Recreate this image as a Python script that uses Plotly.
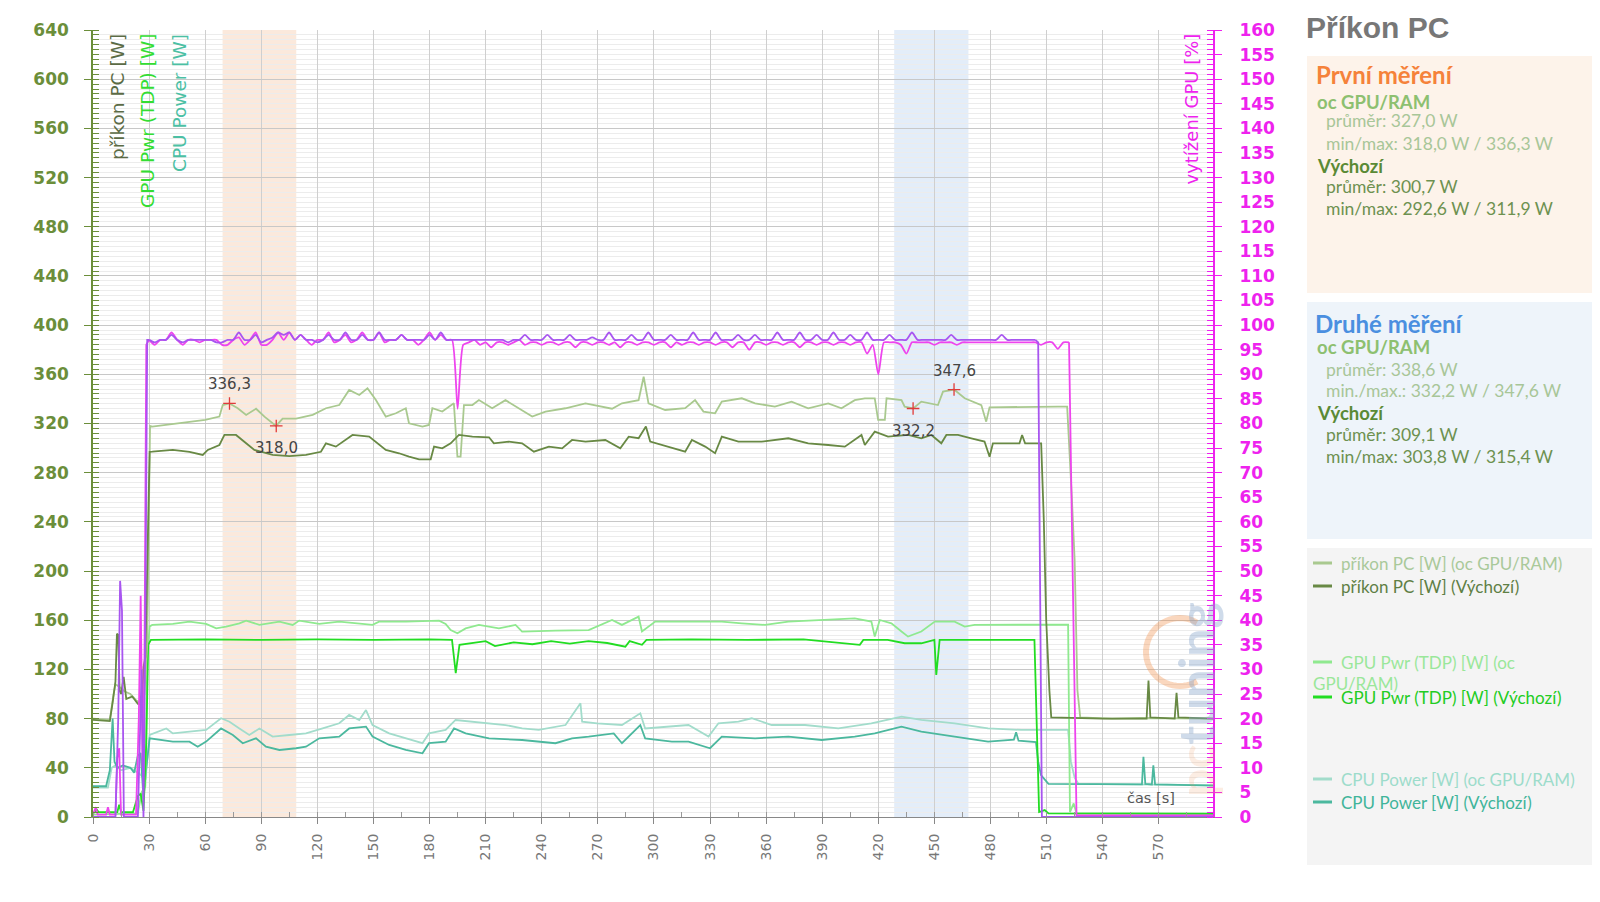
import math
import plotly.graph_objects as go

# ---------------- DATA ----------------
PC_OC_T = [0, 9, 11, 12, 14, 17, 20, 23, 26, 27.5,
           29, 30.5, 31.7, 42, 52, 60, 67.6, 69.4, 73, 77.4,
           81.9, 87.2, 91.7, 97.9, 101.4, 108.6, 117.5, 124.6, 131.7, 137,
           142.4, 146.8, 151.3, 156.6, 162, 167.3, 169, 176.2, 179.7, 181.5,
           186.8, 193, 194.9, 196.6, 198.4, 202.9, 206.4, 213.5, 220.6, 227.8,
           234.9, 242, 252.7, 263.4, 269.6, 277.6, 282.9, 291.8, 294.5, 297.1,
           306, 316.7, 322, 326.5, 332.7, 336.3, 347, 354.1, 364.7, 373.6,
           382.5, 393.2, 400.3, 407.4, 412.8, 418.1, 419.9, 423.5, 424.4, 432.4,
           434.1, 438.6, 443, 451.9, 454.6, 460.5, 466.2, 475.1, 477.7, 479.5,
           516, 521, 523.5, 525, 526.5, 528, 545, 560, 599]
PC_OC_V = [80, 79, 100, 108, 106, 102, 100, 95, 92, 100,
           140, 318, 317.5, 319.5, 321, 323, 325.6, 335, 336.3, 332.4,
           327, 332, 325.6, 318.0, 324, 324, 327, 332.4, 335, 347.3,
           343.2, 348.6, 339.1, 325.6, 328.3, 332.4, 320.2, 317.5, 318.8, 332.4,
           329.7, 336.4, 293, 293, 335, 335, 339.1, 332.4, 339, 332,
           325.6, 329.7, 332.4, 336.4, 334.3, 332, 336.4, 339, 358, 336.4,
           331, 332.4, 339, 329.7, 328.3, 337.8, 340.5, 336.4, 333.7, 337.8,
           332.4, 336.4, 332.4, 339, 340.5, 340.5, 323, 323, 340.5, 339,
           333.7, 332.2, 337.8, 335, 345.9, 347.6, 340.5, 335, 321.5, 333.2,
           333.7, 333.7, 260, 209, 103, 81, 80, 80.5, 80]

PC_DEF_T = [0, 9, 10.5, 12, 12.8, 13.5, 14.2, 15, 16.4, 17.8,
            21, 24, 26.3, 27, 28, 29, 30.3, 31.7, 42.7, 51.6,
            58.7, 61.4, 67.6, 70.3, 76.5, 81.9, 86.3, 96.1, 105, 113.9,
            121.9, 124.6, 129.9, 138.8, 147.7, 156.6, 163.7, 169, 174.4, 180.6,
            182.4, 186.8, 191.3, 195.7, 202.9, 211.8, 214.4, 222.4, 229.5, 235.8,
            243.8, 250.9, 256.2, 263.4, 269.6, 274, 282, 286.5, 291.8, 295.7,
            298, 304.2, 311.4, 316.7, 320.3, 327.4, 332.7, 336.3, 345.2, 357.6,
            371.9, 382.5, 393.2, 402.1, 411, 412.8, 418.1, 425.2, 436, 443,
            448.4, 453.7, 456.4, 462.6, 469.7, 476.8, 479.5, 481.3, 495.5, 496.9,
            498.5, 507.1, 508.5, 509.8, 511.5, 512.5, 540, 563.5, 564.5, 565.5,
            578.5, 579.5, 580.5, 599]
PC_DEF_V = [79, 78, 93, 110, 149, 148, 103, 100, 114, 96,
            98, 92, 92, 122, 130, 200, 297, 297.1, 298.5, 297,
            294.4, 298.5, 302.5, 310.7, 310.7, 303.9, 298.5, 294.5, 293.5, 294.4,
            297, 303.9, 301.2, 310.7, 309.3, 298.5, 295.8, 293, 290.9, 290.9,
            301.2, 299.8, 303.9, 310.7, 309.3, 308.8, 303.9, 305.3, 303.9, 297.1,
            301.2, 299.8, 306.6, 305.3, 306.1, 306.6, 299.8, 309.3, 308, 317.5,
            305.3, 302.5, 299.8, 297.1, 306.6, 301.2, 295.8, 309.3, 305.3, 305.3,
            308, 303.9, 302.5, 301.2, 310.7, 302.5, 313.4, 309.3, 310.7, 308,
            310.7, 303.9, 310.7, 310.7, 308, 305.3, 293, 303.9, 303.9, 310.7,
            303.9, 303.9, 242, 160, 103, 81, 80, 80, 111, 81,
            80, 101, 81, 80]

GPU_OC_T = [0, 24, 26, 28, 29, 30.3, 31.7, 42.7, 51.6, 60.5,
            65.9, 71.2, 78.3, 81.9, 89, 99.7, 106.8, 110.3, 121, 131.7,
            149.5, 153, 167.3, 185.1, 188.6, 191.3, 194.9, 199.3, 206.4, 217.1,
            226, 229.5, 247.3, 256.2, 265.1, 277.6, 282.9, 291.8, 293.6, 300.7,
            318.5, 336.3, 347, 359.4, 371.9, 389.7, 407.4, 416.3, 418.1, 420.8,
            427, 432.4, 435.9, 443, 450.2, 460.8, 466.2, 471.5, 516, 521.5,
            522.5, 524.5, 526, 599]
GPU_OC_V = [2, 3, 20, 25, 130, 155, 156.2, 157, 158.9, 157,
            153.4, 154.8, 157.5, 159.7, 156.2, 158.9, 156.2, 159.7, 157, 158.9,
            156.2, 158.9, 158.9, 159.7, 157, 152, 149.4, 153.4, 156.2, 153.4,
            156.2, 150.8, 151.6, 152.1, 152, 160.2, 156.2, 162.9, 150.8, 158.9,
            158.9, 158.9, 157.5, 156.2, 158.9, 160.2, 161.6, 158.9, 146.7, 160.2,
            157.5, 150.8, 146.7, 150.8, 158.9, 158.9, 154.8, 156.2, 156.2, 156.5,
            4, 11, 3, 3]

GPU_DEF_T = [0, 2, 3, 13, 14, 15, 21.4, 24, 25.5, 27,
             28.5, 29.5, 31, 60, 90, 120, 150, 180, 192, 194,
             196, 200, 210, 215, 225, 235, 245, 255, 265, 275,
             284.7, 287, 293.6, 296, 320, 350, 380, 410.1, 412, 425,
             434.1, 443, 450, 451, 452.8, 480, 503.5, 506, 509, 511,
             599]
GPU_DEF_V = [3, 6, 4, 4, 10, 4, 4, 17, 19, 5,
             60, 140, 144, 144.5, 144, 144.5, 144, 144.5, 144, 117,
             140, 141, 143, 139, 142, 140.5, 143, 141, 143, 141.5,
             138.5, 143, 140, 144, 144.5, 144, 144.5, 140, 144, 144,
             141.3, 141.3, 144, 115.5, 144, 144, 144, 4, 5.6, 3,
             2.5]

CPU_OC_T = [0, 8, 10, 12, 15, 20, 25, 28, 30.3, 39.2,
            42.7, 51.6, 60.5, 68.5, 73, 78.3, 83.6, 89, 96.1, 105,
            113.9, 122.8, 131.7, 137, 142.4, 146, 149.5, 158.4, 167.3, 176.2,
            179.7, 188.6, 193.9, 202.9, 220.6, 229.5, 238.4, 252.7, 260.7, 261.6,
            269.6, 282.9, 292.7, 295.3, 309.6, 318.5, 329.2, 334.5, 345.2, 352.3,
            363, 380.8, 398.6, 416.3, 432.4, 443, 460.8, 478.7, 496.4, 521.5,
            523, 525, 527, 599]
CPU_OC_V = [24, 24, 40, 42, 38, 40, 35, 30, 66.7, 72,
            68, 69.4, 70.8, 80.3, 77.5, 72, 66.7, 72, 65.4, 66.7,
            68, 72, 76.2, 83, 78.9, 87, 74.8, 68, 64, 60,
            68, 70.8, 78.9, 77.5, 74.8, 72, 70.8, 74.8, 92.5, 77.5,
            76.2, 74.8, 84.3, 72, 73.5, 74.8, 65.4, 76.2, 77.5, 80.3,
            74.8, 74.8, 72, 76.2, 81.6, 78.9, 76.2, 72, 70.8, 70.8,
            45, 32, 27, 26]

CPU_DEF_T = [0, 7, 9, 10.5, 11.5, 13, 16, 20, 22, 24,
             25.5, 27, 28.5, 30.3, 42.7, 51.6, 56, 60.5, 68.5, 74.8,
             80.1, 87.2, 92.5, 99.7, 108.6, 113.9, 121, 131.7, 137, 146,
             149.5, 158.4, 167.3, 176.2, 179.7, 188.6, 193.1, 199.3, 211.8, 229.5,
             247.3, 256.2, 265.1, 278.5, 282.9, 292.7, 295.3, 309.6, 318.5, 330,
             336.3, 354.1, 371.9, 389.7, 407.4, 418.1, 432.4, 443, 460.8, 478.7,
             492.5, 493.7, 495, 504.3, 505.5, 507, 511, 561, 561.8, 562.8,
             566.3, 567.1, 568, 599]
CPU_DEF_V = [25, 25, 38, 80, 45, 40, 42, 40, 36, 50,
             52, 15, 40, 64, 61.3, 61.3, 57.2, 61.3, 72, 66.7,
             60, 64, 57.2, 54.5, 55.9, 57.2, 64, 65.4, 72, 73.5,
             65.4, 58.6, 54.5, 51.8, 60, 61.3, 72, 68, 64, 62.6,
             60, 64, 65.4, 68, 60, 74.8, 64, 61.3, 61.3, 55.9,
             65.4, 64, 65.4, 62.6, 65.4, 68, 73.5, 69.4, 65.4, 61.3,
             63, 69, 62, 61, 45, 34, 27, 26.5, 49, 27,
             26.5, 42, 26.5, 25.5]

# GPU utilisation [%] (right axis); main part sampled every 3 s
UTIL_OC_HEAD_T = [0, 1.5, 2.5, 7, 8, 9, 12, 13, 14, 15, 23, 24.5, 25.5, 26.5, 27.5, 28.5]
UTIL_OC_HEAD_V = [0.5, 2, 0.5, 0.5, 2, 0.5, 0.5, 12, 14, 0.5, 0.5, 20, 45, 10, 30, 96]
UTIL_OC_MAIN_V = [97, 96, 97, 97, 98.5, 97, 96, 97, 97, 96.5,
                  97, 97, 97, 96, 96, 97, 97.5, 96, 97, 98.5,
                  96, 96, 97, 98.5, 97, 98.5, 97, 98, 97, 96,
                  97, 97, 98.5, 96.5, 97, 98, 96.5, 97, 98.5, 97,
                  97, 98.5, 96.5, 97, 97, 98, 97, 97, 96, 97,
                  98.5, 97, 98, 97, 97, 83, 96, 96.5, 97, 96,
                  96.5, 95.5, 96.5, 96.5, 96, 96.5, 97, 96, 96.5, 96.5,
                  96, 96.5, 96.5, 96, 96.5, 96.5, 95.5, 96.5, 96.5, 96,
                  96.5, 96.5, 96, 96.5, 95.5, 96.5, 96.5, 96, 96.5, 96.5,
                  96, 96.5, 96.5, 95.5, 96.5, 96, 96.5, 96.5, 96, 96.5,
                  96.5, 96, 96.5, 96.5, 95.5, 96.5, 96.5, 95, 96.5, 96.5,
                  96, 96.5, 96.5, 96, 96.5, 96.5, 95.5, 96.5, 96.5, 96,
                  96.5, 96.5, 96, 96.5, 96.5, 96, 96.5, 96.5, 94.2, 96,
                  90, 96.5, 96.5, 96.5, 96, 94.2, 96.5, 96.5, 96.5, 96.5,
                  96, 96.5, 96.5, 96.5, 96, 96.5, 96.5, 96.5, 96.5, 96.5,
                  96.5, 96.5, 96.5, 96.5, 96.5, 96.5, 96.5, 96.5, 96.5, 96,
                  96.5, 96.5, 95.2, 96.5, 96.5]
UTIL_OC_TAIL_T = [526, 599]
UTIL_OC_TAIL_V = [0.3, 0.3]

UTIL_DEF_HEAD_T = [0, 12, 13.5, 14.5, 15.5, 16.5, 24, 25, 26, 27, 28, 29]
UTIL_DEF_HEAD_V = [0, 0, 20, 48, 42, 0, 0, 15, 30, 0, 40, 97]
UTIL_DEF_MAIN_V = [97, 96.5, 97, 97, 98, 97, 96.5, 97, 97, 97,
                   97, 97, 96.5, 96.5, 97, 97, 98.5, 97, 97, 98,
                   96.5, 97, 97.5, 98.5, 98, 98.5, 97, 98, 97, 97,
                   96.5, 97, 98, 97, 97, 98.5, 97, 97, 98, 97,
                   97, 98.5, 97, 97, 97, 98, 97, 97, 97, 97,
                   98, 97, 98.5, 97, 97, 97, 97, 97, 97, 97,
                   97, 97, 97, 97, 96.5, 97, 97, 98, 97, 97,
                   97, 98, 97, 97, 97, 98, 97, 97, 97, 97.5,
                   97, 97, 98.5, 97, 97, 97, 98, 97, 97, 98.5,
                   97, 97, 97, 98, 97, 97, 97, 98.5, 97, 97,
                   97, 98.5, 97, 97, 97, 98, 97, 97, 98, 97,
                   97, 97, 98.5, 97, 97, 97, 98.5, 97, 97, 98,
                   97, 97, 98.5, 97, 97, 98, 97, 97, 98.5, 97,
                   97, 97, 98, 97, 97, 97, 98.5, 97, 97, 97,
                   97, 97, 97, 98, 97, 97, 97, 97, 97, 97,
                   97, 97, 98, 97, 97, 97, 97, 97, 97]
UTIL_DEF_TAIL_T = [505.5, 507.5, 599]
UTIL_DEF_TAIL_V = [96.5, 0, 0]

MINMAX_T = [73, 98, 438.6, 460.5]
MINMAX_V = [336.3, 318.0, 332.2, 347.6]
MINMAX_LBL = ["336,3", "318,0", "332,2", "347,6"]
MINMAX_SHIFT = [19, -22, -22, 19]

BAND1 = (69.3, 108.7)
BAND2 = (428.5, 468.2)

Y_TICKS = list(range(0, 641, 40))
Y2_TICKS = list(range(0, 161, 5))
X_TICKS = list(range(0, 571, 30))

for a, b in [(PC_OC_T, PC_OC_V), (PC_DEF_T, PC_DEF_V), (GPU_OC_T, GPU_OC_V),
             (GPU_DEF_T, GPU_DEF_V), (CPU_OC_T, CPU_OC_V), (CPU_DEF_T, CPU_DEF_V)]:
    assert len(a) == len(b), (len(a), len(b))

util_oc_main_t = list(range(30, 523, 3))
util_def_main_t = list(range(30, 505, 3))
assert len(util_oc_main_t) == len(UTIL_OC_MAIN_V)
assert len(util_def_main_t) == len(UTIL_DEF_MAIN_V)

# ---------------- STYLE ----------------
W, H = 1600, 902
L, R, T, B = 93, 387, 30, 85
PW, PH = W - L - R, H - T - B


def px(x):
    return (x - L) / PW


def py(y):
    return (H - B - y) / PH


OLIVE = "#6b8e3a"
MAG = "#ee22ee"
C_PC_OC, C_PC_DEF = "#a9c98f", "#688944"
C_GPU_OC, C_GPU_DEF = "#8fe98f", "#22dd22"
C_CPU_OC, C_CPU_DEF = "#a2dccb", "#4bb89e"
C_U_OC, C_U_DEF = "#ee44ee", "#a855f0"

fig = go.Figure()


def add_line(t, v, color, width=1.8, yaxis="y", shape="linear"):
    line = dict(color=color, width=width, shape=shape)
    if shape == "spline":
        line["smoothing"] = 0.6
    fig.add_trace(go.Scatter(x=t, y=v, mode="lines", yaxis=yaxis, line=line,
                             hoverinfo="skip", showlegend=False))


def add_util(head_t, head_v, main_t, main_v, tail_t, tail_v, color):
    # sharp start/end segments, gently smoothed plateau
    add_line(head_t + main_t[:1], head_v + main_v[:1], color, yaxis="y2")
    add_line(main_t, main_v, color, yaxis="y2", shape="spline")
    add_line(main_t[-1:] + tail_t, main_v[-1:] + tail_v, color, yaxis="y2")


add_line(CPU_OC_T, CPU_OC_V, C_CPU_OC)
add_line(CPU_DEF_T, CPU_DEF_V, C_CPU_DEF)
add_line(GPU_OC_T, GPU_OC_V, C_GPU_OC)
add_line(GPU_DEF_T, GPU_DEF_V, C_GPU_DEF)
add_line(PC_OC_T, PC_OC_V, C_PC_OC)
add_line(PC_DEF_T, PC_DEF_V, C_PC_DEF)
add_util(UTIL_OC_HEAD_T, UTIL_OC_HEAD_V, util_oc_main_t, UTIL_OC_MAIN_V,
         UTIL_OC_TAIL_T, UTIL_OC_TAIL_V, C_U_OC)
add_util(UTIL_DEF_HEAD_T, UTIL_DEF_HEAD_V, util_def_main_t, UTIL_DEF_MAIN_V,
         UTIL_DEF_TAIL_T, UTIL_DEF_TAIL_V, C_U_DEF)

fig.add_trace(go.Scatter(x=MINMAX_T, y=MINMAX_V, mode="markers", hoverinfo="skip",
                         showlegend=False,
                         marker=dict(symbol="cross-thin", size=9,
                                     line=dict(color="#e03a3a", width=1.3))))
for t, v, s, sh in zip(MINMAX_T, MINMAX_V, MINMAX_LBL, MINMAX_SHIFT):
    fig.add_annotation(x=t, y=v, xref="x", yref="y", text=s, showarrow=False,
                       yshift=sh, font=dict(family="DejaVu Sans", size=15, color="#444"))

# highlighted measuring windows
for (a, b), col in [(BAND1, "#fbe9dc"), (BAND2, "#e3edf9")]:
    fig.add_shape(type="rect", xref="x", yref="paper", x0=a, x1=b, y0=0, y1=1,
                  fillcolor=col, line=dict(width=0), layer="below")


def text(s, x, y, size, color, bold=False, family="Lato", xanchor="left",
         yanchor="middle", angle=0):
    fig.add_annotation(text=s, x=px(x), y=py(y), xref="paper", yref="paper",
                       showarrow=False, xanchor=xanchor, yanchor=yanchor,
                       textangle=angle,
                       font=dict(family=family, size=size, color=color,
                                 weight="bold" if bold else "normal"))


# axis titles inside the plot
text("příkon PC [W]", 118, 32, 18.5, "#5b6b45", family="DejaVu Sans",
     xanchor="center", yanchor="top", angle=-90)
text("GPU Pwr (TDP) [W]", 148, 32, 18.5, "#33dd33", family="DejaVu Sans",
     xanchor="center", yanchor="top", angle=-90)
text("CPU Power [W]", 180, 32, 18.5, "#4cc0a4", family="DejaVu Sans",
     xanchor="center", yanchor="top", angle=-90)
text("vytížení GPU [%]", 1191, 32, 18, MAG, family="DejaVu Sans",
     xanchor="center", yanchor="top", angle=-90)
text("čas [s]", 1151, 798, 14.5, "#555", family="DejaVu Sans", xanchor="center")

# title and info panels
text("Příkon PC", 1304, 27, 30, "#777", bold=True, family="Liberation Sans")

panels = [(56, 293, "#fdf3ea"), (302, 539, "#eef4fa"), (548, 865, "#f4f4f4")]
for y0, y1, col in panels:
    fig.add_shape(type="rect", xref="paper", yref="paper", x0=px(1307), x1=px(1592),
                  y0=py(y1), y1=py(y0), fillcolor=col, line=dict(width=0), layer="below")

OC_HEAD, OC_TXT = "#8dc070", "#a8c698"
DEF_HEAD, DEF_TXT = "#5a8a35", "#6d9150"
text("První měření", 1314, 75, 24, "#f5823a", bold=True)
text("oc GPU/RAM", 1315, 102, 18.5, OC_HEAD, bold=True)
text("průměr: 327,0 W", 1324, 121, 17.5, OC_TXT)
text("min/max: 318,0 W / 336,3 W", 1324, 143, 17.5, OC_TXT)
text("Výchozí", 1315, 166, 18.5, DEF_HEAD, bold=True)
text("průměr: 300,7 W", 1324, 186, 17.5, DEF_TXT)
text("min/max: 292,6 W / 311,9 W", 1324, 208, 17.5, DEF_TXT)

text("Druhé měření", 1313, 323, 24, "#4a8fe0", bold=True)
text("oc GPU/RAM", 1315, 347, 18.5, OC_HEAD, bold=True)
text("průměr: 338,6 W", 1324, 369, 17.5, OC_TXT)
text("min./max.: 332,2 W / 347,6 W", 1324, 390, 17.5, OC_TXT)
text("Výchozí", 1315, 413, 18.5, DEF_HEAD, bold=True)
text("průměr: 309,1 W", 1324, 434, 17.5, DEF_TXT)
text("min/max: 303,8 W / 315,4 W", 1324, 456, 17.5, DEF_TXT)

# custom legend
legend = [("příkon PC [W] (oc GPU/RAM)", 563, C_PC_OC, "#a9c99a"),
          ("příkon PC [W] (Výchozí)", 586, C_PC_DEF, "#5f7f45"),
          ("GPU Pwr (TDP) [W] (oc", 662, C_GPU_OC, "#9ae79a"),
          ("GPU Pwr (TDP) [W] (Výchozí)", 697, C_GPU_DEF, "#22cc22"),
          ("CPU Power [W] (oc GPU/RAM)", 779, C_CPU_OC, "#9ddccb"),
          ("CPU Power [W] (Výchozí)", 802, C_CPU_DEF, "#40b49a")]
for s, y, lc, tc in legend:
    fig.add_shape(type="line", xref="paper", yref="paper", x0=px(1313), x1=px(1332),
                  y0=py(y), y1=py(y), line=dict(color=lc, width=3))
    text(s, 1339, y, 17, tc)
text("GPU/RAM)", 1311, 683, 17, "#9ae79a")

# faint watermark
pts = []
cx, cy, rr = 1180, 652, 34
for k in range(0, 41):
    ang = math.radians(60 + k * 6)
    pts.append((px(cx + rr * math.cos(ang)), py(cy - rr * math.sin(ang))))
path = "M " + " L ".join(f"{a:.5f},{b:.5f}" for a, b in pts)
fig.add_shape(type="path", xref="paper", yref="paper", path=path,
              line=dict(color="rgba(240,140,70,0.35)", width=6))
fig.add_annotation(text="<span style='color:rgba(240,150,90,0.45)'>pc</span>tuning",
                   x=px(1196), y=py(700), xref="paper", yref="paper", showarrow=False,
                   textangle=-90, xanchor="center", yanchor="middle",
                   font=dict(family="Lato", size=50, color="rgba(130,160,200,0.38)",
                             weight="bold"))

fig.update_layout(
    width=W, height=H, margin=dict(l=L, r=R, t=T, b=B, pad=0),
    paper_bgcolor="white", plot_bgcolor="white", showlegend=False,
    font=dict(family="DejaVu Sans"),
    xaxis=dict(range=[0, 599], tickvals=X_TICKS, tickangle=-90,
               tickfont=dict(family="DejaVu Sans", size=14, color="#777"),
               showgrid=True, gridcolor="#cfcfcf", gridwidth=1, zeroline=False,
               showline=True, linecolor="#888", linewidth=1.2,
               ticks="outside", ticklen=6, tickcolor="#888",
               ticklabelstandoff=4,
               minor=dict(dtick=15, tick0=0, ticks="inside", ticklen=5,
                          tickcolor="#999", showgrid=False)),
    yaxis=dict(range=[0, 640], tickvals=Y_TICKS,
               tickfont=dict(family="DejaVu Sans", size=17, color=OLIVE, weight="bold"),
               showgrid=True, gridcolor="#c8c8c8", gridwidth=1, zeroline=False,
               showline=True, linecolor=OLIVE, linewidth=1.5,
               ticks="outside", ticklen=7, tickcolor=OLIVE, tickwidth=1.3,
               ticklabelstandoff=12,
               minor=dict(dtick=4, tick0=0, ticks="inside", ticklen=6,
                          tickcolor=OLIVE, showgrid=True, gridcolor="#ececec")),
    yaxis2=dict(range=[0, 160], tickvals=Y2_TICKS, overlaying="y", side="right",
                tickfont=dict(family="DejaVu Sans", size=17, color=MAG, weight="bold"),
                showgrid=False, zeroline=False, showline=True, linecolor=MAG,
                linewidth=2, ticks="outside", ticklen=7, tickcolor=MAG, tickwidth=1.3,
                ticklabelstandoff=14,
                minor=dict(dtick=1, tick0=0, ticks="inside", ticklen=6,
                           tickcolor=MAG, showgrid=False)),
)

fig.write_html("out.html")
